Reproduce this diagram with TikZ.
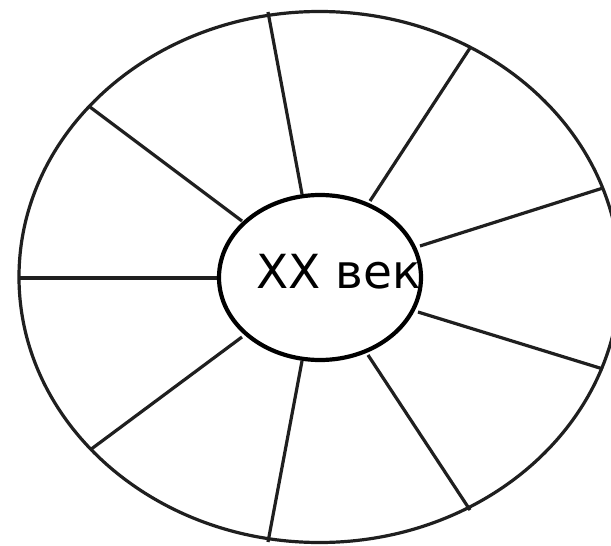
\documentclass[tikz,border=0pt]{standalone}
\usepackage{fontspec}
\setmainfont{DejaVu Sans}
\usetikzlibrary{shapes.geometric}
\begin{document}
\begin{tikzpicture}[x=1pt,y=-1pt,
  rim/.style={draw=black!88, line width=3.2pt},
  spoke/.style={draw=black!88, line width=3.2pt},
  hub/.style={draw=black, line width=4.2pt}]
\clip (0,0) rectangle (611,546);
\fill[white] (0,0) rectangle (611,546);
% outer rim
\draw[rim] (319.5,277) ellipse [x radius=300.5, y radius=265.5];
% outer spoke ends
\coordinate (o1) at (19,278);
\coordinate (o2) at (90,107);
\coordinate (o3) at (268,12);
\coordinate (o4) at (470,48);
\coordinate (o5) at (603,188);
\coordinate (o6) at (603,369);
\coordinate (o7) at (470,510);
\coordinate (o8) at (268,542);
\coordinate (o9) at (90,450);
% inner spoke ends
\coordinate (i1) at (219,278);
\coordinate (i2) at (242,221);
\coordinate (i3) at (302,194);
\coordinate (i4) at (370,201);
\coordinate (i5) at (420,246);
\coordinate (i6) at (418,312);
\coordinate (i7) at (368,355);
\coordinate (i8) at (302,361);
\coordinate (i9) at (242,337);
\foreach \k in {1,...,9} {\draw[spoke] (o\k) -- (i\k);}
% hub
\node[anchor=base west, inner sep=0pt, font=\fontsize{47}{47}\selectfont] (label) at (256,288) {XX век};
\draw[hub] (320,277.5) ellipse [x radius=101, y radius=82.5];
\end{tikzpicture}
\end{document}
